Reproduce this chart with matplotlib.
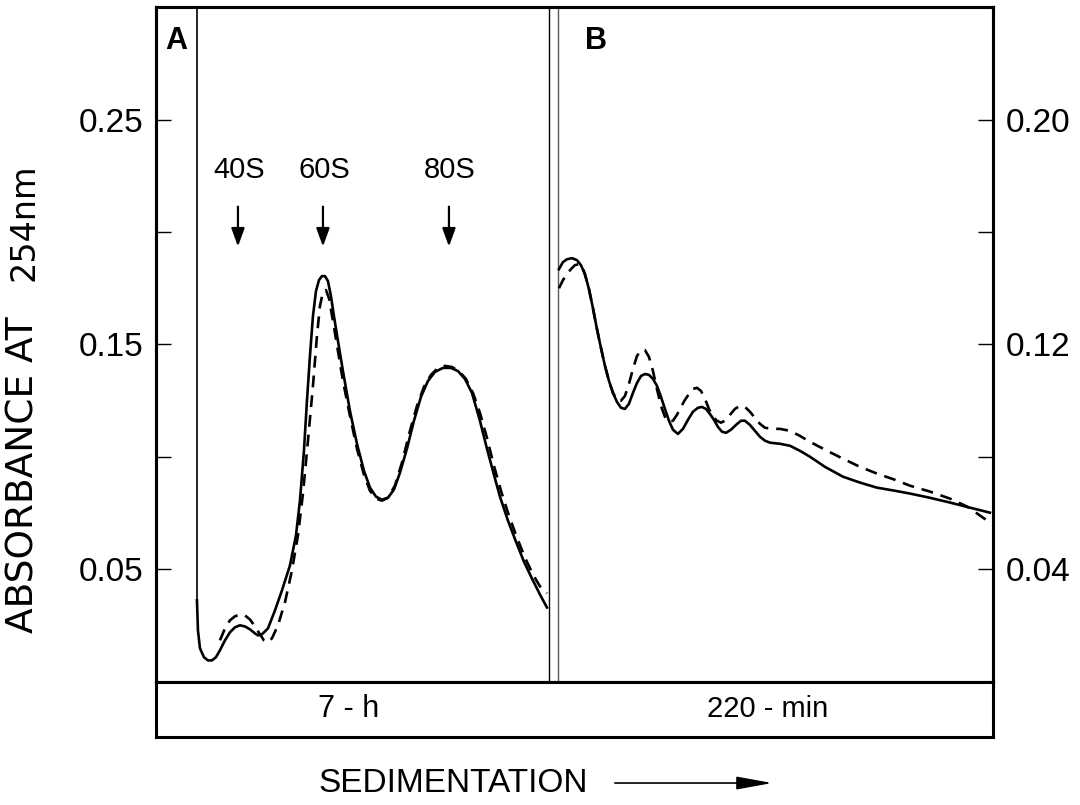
import numpy as np
import matplotlib.pyplot as plt
from matplotlib.patches import FancyArrowPatch

plt.rcParams['font.family'] = ['Liberation Sans', 'DejaVu Sans']

# sedimentation position in arbitrary units (0 .. 83.7 across the whole frame)
# panel A : 7-h gradient, left absorbance scale
a_solid_x = [4.1, 4.1, 4.2, 4.4, 4.8, 5.2, 5.6, 6.0, 6.4, 6.9, 7.4, 7.9, 8.4, 8.9, 9.4, 9.9, 10.2, 10.6,
             11.2, 11.9, 12.6, 13.4, 14.0, 14.4, 14.8, 15.1, 15.4, 15.7, 16.0, 16.3, 16.6, 16.9, 17.2, 17.5,
             17.8, 18.2, 18.7, 19.4, 20.1, 20.8, 21.4, 22.0, 22.6, 23.2, 23.8, 24.4, 25.1, 25.8, 26.5, 27.2,
             27.9, 28.7, 29.5, 30.2, 30.9, 31.6, 32.4, 33.1, 33.8, 34.4, 35.2, 36.0, 36.8, 37.6, 38.4, 39.1]
a_solid_y = [0.300, 0.0363, 0.0229, 0.0150, 0.0110, 0.0096, 0.0096, 0.0110, 0.0141, 0.0185, 0.0221, 0.0243,
             0.0252, 0.0247, 0.0234, 0.0216, 0.0207, 0.0212, 0.0238, 0.0318, 0.0407, 0.0518, 0.0651, 0.0806,
             0.1028, 0.1249, 0.1449, 0.1626, 0.1737, 0.1786, 0.1804, 0.1804, 0.1782, 0.1715, 0.1626, 0.1516,
             0.1382, 0.1205, 0.1059, 0.0939, 0.0864, 0.0824, 0.0810, 0.0819, 0.0855, 0.0930, 0.1037, 0.1161,
             0.1267, 0.1338, 0.1378, 0.1396, 0.1396, 0.1382, 0.1347, 0.1285, 0.1161, 0.1037, 0.0921, 0.0824,
             0.0717, 0.0624, 0.0535, 0.0460, 0.0389, 0.0331]

a_dash_x = [6.4, 6.9, 7.4, 7.9, 8.4, 8.9, 9.4, 9.9, 10.4, 10.8, 11.2, 11.6, 12.2, 12.9, 13.6, 14.2, 14.7,
            15.2, 15.7, 16.1, 16.4, 16.7, 17.0, 17.3, 17.7, 18.2, 18.7, 19.4, 20.1, 20.8, 21.4, 22.0, 22.6,
            23.2, 23.9, 24.6, 25.4, 26.1, 26.8, 27.5, 28.2, 28.9, 29.6, 30.3, 31.0, 31.7, 32.4, 33.1, 33.8,
            34.5, 35.3, 36.1, 36.9, 37.7, 38.4, 39.1]
a_dash_y = [0.0185, 0.0238, 0.0274, 0.0292, 0.0300, 0.0296, 0.0278, 0.0247, 0.0212, 0.0185, 0.0176, 0.0194,
            0.0252, 0.0354, 0.0496, 0.0651, 0.0837, 0.1072, 0.1316, 0.1538, 0.1671, 0.1733, 0.1742, 0.1706,
            0.1604, 0.1471, 0.1338, 0.1183, 0.1037, 0.0921, 0.0850, 0.0815, 0.0806, 0.0819, 0.0873, 0.0975,
            0.1116, 0.1227, 0.1312, 0.1365, 0.1396, 0.1405, 0.1400, 0.1382, 0.1347, 0.1285, 0.1196, 0.1085,
            0.0961, 0.0850, 0.0739, 0.0642, 0.0553, 0.0478, 0.0425, 0.0394]

# panel B : 220-min gradient, right absorbance scale
b_solid_x = [40.3, 40.7, 41.1, 41.6, 42.1, 42.5, 42.9, 43.3, 43.7, 44.1, 44.5, 44.9, 45.3, 45.7, 46.1, 46.5,
             46.9, 47.3, 47.7, 48.1, 48.5, 48.9, 49.3, 49.7, 50.1, 50.5, 50.9, 51.3, 51.7, 52.2, 52.7, 53.2,
             53.7, 54.2, 54.6, 55.0, 55.4, 55.8, 56.2, 56.6, 57.0, 57.5, 58.0, 58.5, 58.9, 59.4, 59.9, 60.4,
             60.9, 61.4, 62.4, 63.4, 64.4, 65.4, 66.9, 68.7, 70.4, 72.1, 73.9, 75.4, 77.4, 79.4, 81.4, 83.4]
b_solid_y = [0.1468, 0.1493, 0.1503, 0.1507, 0.1500, 0.1482, 0.1450, 0.1397, 0.1329, 0.1255, 0.1188, 0.1124,
             0.1071, 0.1028, 0.0996, 0.0975, 0.0971, 0.0989, 0.1028, 0.1063, 0.1088, 0.1095, 0.1092, 0.1078,
             0.1053, 0.1014, 0.0971, 0.0929, 0.0897, 0.0882, 0.0900, 0.0932, 0.0961, 0.0975, 0.0978, 0.0971,
             0.0953, 0.0932, 0.0907, 0.0890, 0.0886, 0.0897, 0.0914, 0.0929, 0.0929, 0.0914, 0.0893, 0.0872,
             0.0858, 0.0851, 0.0847, 0.0840, 0.0822, 0.0801, 0.0765, 0.0730, 0.0709, 0.0691, 0.0680, 0.0670,
             0.0655, 0.0638, 0.0620, 0.0602]

b_dash_x = [40.3, 40.7, 41.1, 41.5, 41.9, 42.3, 42.7, 43.1, 43.3, 43.7, 44.1, 44.5, 44.9, 45.3, 45.7, 46.1,
            46.5, 46.9, 47.3, 47.7, 48.1, 48.5, 48.9, 49.3, 49.7, 50.1, 50.5, 50.9, 51.3, 51.7, 52.1, 52.5,
            52.9, 53.3, 53.7, 54.1, 54.5, 54.9, 55.3, 55.7, 56.1, 56.5, 56.9, 57.4, 57.9, 58.4, 58.9, 59.4,
            59.9, 60.4, 60.9, 61.7, 62.4, 63.4, 64.4, 65.4, 66.9, 68.7, 70.4, 72.1, 73.9, 75.4, 77.4, 79.4,
            81.1, 82.4, 83.4]
b_dash_y = [0.1400, 0.1429, 0.1450, 0.1468, 0.1482, 0.1486, 0.1471, 0.1425, 0.1397, 0.1329, 0.1255, 0.1188,
            0.1124, 0.1071, 0.1028, 0.1003, 0.1000, 0.1017, 0.1060, 0.1113, 0.1159, 0.1180, 0.1180, 0.1156,
            0.1106, 0.1042, 0.0982, 0.0943, 0.0925, 0.0929, 0.0950, 0.0978, 0.1003, 0.1024, 0.1042, 0.1046,
            0.1035, 0.1007, 0.0971, 0.0943, 0.0929, 0.0922, 0.0929, 0.0950, 0.0971, 0.0982, 0.0978, 0.0961,
            0.0939, 0.0918, 0.0904, 0.0900, 0.0900, 0.0893, 0.0875, 0.0854, 0.0826, 0.0794, 0.0765, 0.0741,
            0.0719, 0.0698, 0.0677, 0.0652, 0.0624, 0.0592, 0.0567]

peak_names = ["40S", "60S", "80S"]
peak_pos = [8.2, 16.7, 29.3]

left_ticks = [0.05, 0.10, 0.15, 0.20, 0.25]
left_labels = ["0.05", "", "0.15", "", "0.25"]
right_ticks = [0.04, 0.08, 0.12, 0.16, 0.20]
right_labels = ["0.04", "", "0.12", "", "0.20"]

divider = [39.3, 40.2]
xmax = 83.7


fig = plt.figure(figsize=(10.8, 8.05), dpi=100)

ax = fig.add_axes([0.1444, 0.1528, 0.775, 0.8385])
axr = ax.twinx()
strip = fig.add_axes([0.1444, 0.0845, 0.775, 0.0683])

lw = 1.9
dash = (0, (4.5, 3))
# the near-vertical meniscus trace is drawn thinner, as in the original tracing
ax.plot(a_solid_x[:2], a_solid_y[:2], c='k', lw=1.2)
ax.plot(a_solid_x[1:], a_solid_y[1:], c='k', lw=lw, solid_joinstyle='round')
ax.plot(a_dash_x, a_dash_y, c='k', lw=lw, ls=dash)
axr.plot(b_solid_x, b_solid_y, c='k', lw=lw, solid_joinstyle='round')
axr.plot(b_dash_x, b_dash_y, c='k', lw=lw, ls=dash)

ax.axvline(divider[0], c='k', lw=1.0)
ax.axvline(divider[1], c='0.35', lw=1.0)

ax.set_xlim(0, xmax)
ax.set_ylim(0, 0.30)
axr.set_ylim(0, 0.24)

for name, xp in zip(peak_names, peak_pos):
    ax.annotate("", xy=(xp, 0.1923), xytext=(xp, 0.2125),
                arrowprops=dict(arrowstyle="-|>,head_length=1.1,head_width=0.4", color='k', lw=1.6))
    ax.text(xp + 0.1, 0.2275, name, ha='center', va='center', fontsize=21)

ax.text(0.9, 0.285, "A", fontsize=22, fontweight='bold', ha='left', va='center')
ax.text(42.9, 0.285, "B", fontsize=22, fontweight='bold', ha='left', va='center')

ax.set_xticks([])
ax.set_yticks(left_ticks, left_labels)
axr.set_yticks(right_ticks, right_labels)
ax.tick_params(axis='y', direction='in', length=11, width=1, pad=9, labelsize=24)
axr.tick_params(axis='y', direction='in', length=11, width=1, pad=9, labelsize=24)

for a in (ax, axr, strip):
    for s in a.spines.values():
        s.set_linewidth(2.2)

strip.set(xlim=(0, xmax), ylim=(0, 1), xticks=[], yticks=[])
strip.text(19.3, 0.5, "7 - h", ha='center', va='center', fontsize=22)
strip.text(61.2, 0.5, "220 - min", ha='center', va='center', fontsize=21)

fig.text(0.022, 0.410, "ABSORBANCE AT", rotation=90, ha='center', va='center',
         fontsize=27, family='DejaVu Sans')
fig.text(0.022, 0.724, "254nm", rotation=90, ha='center', va='center',
         fontsize=24, family='DejaVu Sans')

fig.text(0.420, 0.0273, "SEDIMENTATION", ha='center', va='center', fontsize=24)
fig.patches.append(FancyArrowPatch(
    (0.5667, 0.0273), (0.7176, 0.0273), transform=fig.transFigure,
    arrowstyle="-|>,head_length=2.2,head_width=0.4", mutation_scale=10, color='k', lw=1.2))

fig.savefig("out.png", dpi=100)
